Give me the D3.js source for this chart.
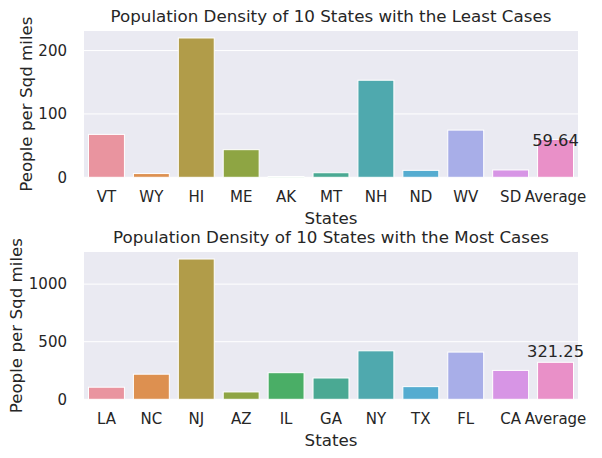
<!DOCTYPE html>
<html><head><meta charset="utf-8">
<script src="https://cdn.jsdelivr.net/npm/d3@7"></script>
<style>body{margin:0;background:#fff}svg{display:block;font-family:"DejaVu Sans",sans-serif}</style>
</head><body><svg id="c" width="602" height="458"></svg>
<script>
const leastStates = ["VT","WY","HI","ME","AK","MT","NH","ND","WV","SD","Average"];
const leastValues = [67.7,5.9,219.9,43.6,1.3,7.2,153.2,11.0,74.5,11.6,59.64];
const mostStates = ["LA","NC","NJ","AZ","IL","GA","NY","TX","FL","CA","Average"];
const mostValues = [105,218,1218,64,231,185,421,110,410,251,321.25];
const leastTicks = [0,100,200];
const mostTicks = [0,500,1000];
const titles = ["Population Density of 10 States with the Least Cases","Population Density of 10 States with the Most Cases"];
const avgLabels = ["59.64","321.25"];
const palette = ["#e9949f","#dd9050","#b19c49","#8ea543","#4aae66","#4aa993","#4fa9ae","#55acd0","#a8aee8","#d795e5","#e990c8"];

const svg = d3.select("#c");
const panels = [
  {cats: leastStates, vals: leastValues, ticks: leastTicks, title: titles[0], label: avgLabels[0], top: 31, bottom: 177.3, labDy: 6, ylabX: 26, xpad: 14.5},
  {cats: mostStates, vals: mostValues, ticks: mostTicks, title: titles[1], label: avgLabels[1], top: 252, bottom: 399.3, labDy: -5, ylabX: 16, xpad: 14}
];
const left = 84, right = 578;
panels.forEach(p => {
  const g = svg.append("g");
  const x = d3.scaleBand().domain(p.cats).range([left, right]).paddingInner(0.2).paddingOuter(0.1);
  const y = d3.scaleLinear().domain([0, d3.max(p.vals) * 1.05]).range([p.bottom, p.top]);
  g.append("rect").attr("x", left).attr("y", p.top).attr("width", right - left).attr("height", p.bottom - p.top).attr("fill", "#eaeaf2");
  g.append("g").selectAll("line").data(p.ticks).join("line")
    .attr("x1", left).attr("x2", right).attr("y1", d => y(d)).attr("y2", d => y(d))
    .attr("stroke", "#fff").attr("stroke-width", 1);
  g.append("g").selectAll("rect").data(p.vals).join("rect")
    .attr("x", (d, i) => x(p.cats[i])).attr("width", x.bandwidth())
    .attr("y", d => y(d)).attr("height", d => y(0) - y(d))
    .attr("fill", (d, i) => palette[i]).attr("stroke", "#fff").attr("stroke-width", 1);
  const ya = d3.axisLeft(y).tickValues(p.ticks).tickFormat(d3.format("d")).tickSize(0).tickPadding(17);
  const yg = g.append("g").attr("transform", `translate(${left},0)`).call(ya);
  const xa = d3.axisBottom(x).tickSize(0).tickPadding(p.xpad);
  const xg = g.append("g").attr("transform", `translate(0,${p.bottom})`).call(xa);
  [yg, xg].forEach(a => { a.select(".domain").remove(); a.selectAll("text").attr("font-size", 15).attr("fill", "#262626").attr("font-family", "DejaVu Sans"); });
  g.append("text").attr("x", (left + right) / 2).attr("y", p.top - 9.5).attr("text-anchor", "middle")
    .attr("font-size", 16.7).attr("fill", "#262626").text(p.title);
  g.append("text").attr("x", (left + right) / 2).attr("y", p.bottom + 46.5).attr("text-anchor", "middle")
    .attr("font-size", 16.7).attr("fill", "#262626").text("States");
  g.append("text").attr("transform", `translate(${p.ylabX},${(p.top + p.bottom) / 2}) rotate(-90)`).attr("text-anchor", "middle")
    .attr("dy", "0.35em").attr("font-size", 16.7).attr("fill", "#262626").text("People per Sqd miles");
  const last = p.vals.length - 1;
  g.append("text").attr("x", x(p.cats[last]) + x.bandwidth() / 2).attr("y", y(p.vals[last]) + p.labDy)
    .attr("text-anchor", "middle").attr("font-size", 16.3).attr("fill", "#262626").text(p.label);
});
</script></body></html>
